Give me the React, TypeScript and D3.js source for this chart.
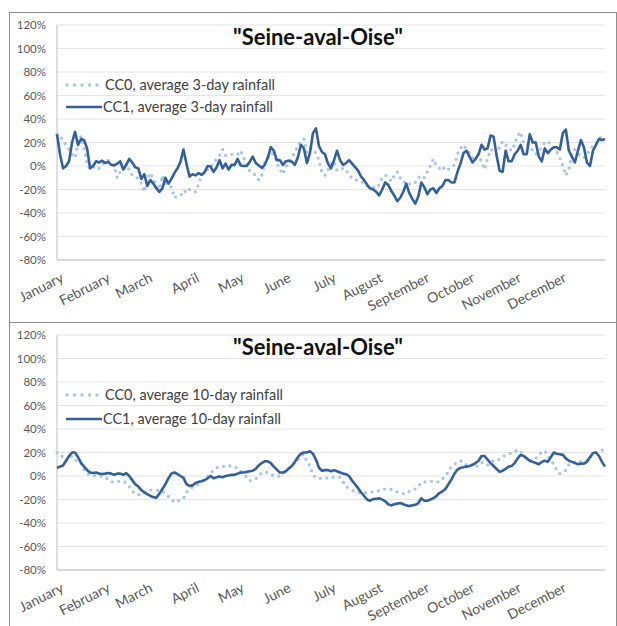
import React from 'react'
import * as d3 from 'd3'

// month labels and the day of year each one starts on
const months = ['January', 'February', 'March', 'April', 'May', 'June', 'July', 'August', 'September', 'October', 'November', 'December']
const monthStart = [0, 31, 59, 90, 120, 151, 181, 212, 243, 273, 304, 334]
const yTicks = [120, 100, 80, 60, 40, 20, 0, -20, -40, -60, -80]

// values are read every 2 days (day 0, 2, 4 ... 364), in %
const DAY_STEP = 2

const cc0_3day = [
  27, 26, 21, 18, 14, 10, 7, 20, 25, 15, 2, -3, -1, 0, -2, 1, 4, 5, 3, 0,
  -10, -5, -3, 0, -3, -8, -9, -11, -15, -22, -10, -6, -11, -17, -20, -8, -15, -17, -18, -27,
  -25, -24, -25, -19, -20, -21, -22, -16, -8, -6, -3, -2, 3, 6, 9, 14, 9, 9, 10, 9,
  10, 13, 7, 0, -4, -6, -8, -12, -8, 3, 7, 11, 10, 3, -3, -7, -1, 3, 7, 12,
  17, 21, 23, 12, 16, 14, 11, 5, -6, -8, -4, 2, 4, -4, -3, -2, -3, -8, -10, -12,
  -12, -13, -15, -17, -18, -18, -19, -16, -10, -8, -9, -13, -8, -5, -10, -14, -13, -15, -16, -14,
  -10, -8, -10, -5, 0, 6, 0, -2, 0, -4, -3, -1, 1, 10, 15, 18, 14, 11, 7, 9,
  10, 3, -3, 6, 14, 13, 10, 16, 21, 18, 15, 13, 18, 26, 29, 19, 18, 17, 13, 10,
  12, 16, 20, 21, 18, 14, 12, 7, 0, -8, -3, 10, 14, 11, 8, 7, 10, 14, 17, 19,
  22, 26, 28,
]

const cc1_3day = [
  27, 10, -2, 0, 4, 20, 29, 18, 23, 22, 15, -2, 0, 4, 3, 4.5, 2.5, 3.5, 1, 0.5,
  2, 4, -3, 1, 6, 3, -1, -2, -11, -7, -17, -12, -15, -19, -22, -19, -10, -15, -11, -6,
  -2, 3.5, 14, 2, -9, -7, -8, -6, -7.5, -5.5, 0, -0.5, -5, -1, 5, -2, 2, -3, 1, 1,
  6, 0.5, 0, 0, 3.5, 8, 2.5, 0.5, -1.5, 1, 7, 16, 13, 5, 5, 1, 4, 4.5, 3.7, 1,
  7.5, 18, 15, 2.5, 11, 28, 32, 17, 12, 10, 2, -2, 5, 13, 5, 1, 2.5, 5, 2, -1,
  -4, -9, -12, -16, -19, -20, -22, -25, -20, -14, -16, -21, -25, -30, -27, -22, -15, -23, -28, -32,
  -26, -14, -18, -24, -20, -19, -23, -19, -17, -12, -12, -14, -14, -5, 2, 11, 13, 8, 3, 6,
  10, 18, 14, 15, 26, 25, 9, -4, -5, 13, 4, 4, 10, 13, 18, 10, 10, 27, 20, 20,
  8, 4, 15, 11, 14, 16, 16, 14, 28, 31, 13, 8, 3, 13, 22, 16, 3, 0, 13, 18,
  23, 22, 23,
]

const cc0_10day = [
  20, 18, 16, 13, 14, 17, 14, 12, 11, 5, 2, 1, 0, 0.5, 0, -0.5, -1, -3, -5, -5,
  -4.5, -4.5, -4.5, -6, -9, -13, -15, -16, -15.5, -14, -13, -12, -12, -12, -12.5, -13, -15, -17.5, -20, -22.5,
  -21.5, -20.5, -19, -14, -11, -9.5, -8.5, -7, -5, -3, -0.5, 2, 5, 7, 7.5, 8, 8.5, 8.5, 8.5, 8,
  6, 4, 1.5, -1, -4, -3.5, -2.5, 0, 3, 3, 3, 1.5, 0, 0, 0, 2, 4, 6.5, 9, 11.5,
  14, 17, 18.5, 12, 9, 1, -1.5, -2, -2, -2, -1.5, -1, -1, -1, -1, -5, -9, -10.5, -12, -13.5,
  -14, -14.5, -14.5, -14, -14, -13.5, -13, -12.5, -11.5, -11, -11, -11.5, -12.5, -13.5, -14, -15, -15, -13, -12, -11,
  -9, -5.5, -5, -5, -4.5, -4.5, -5, -5, -2.5, 0, 4, 8, 10, 12, 13, 12, 9, 9, 10, 7.5,
  9.5, 11.5, 10, 9, 12, 13, 13, 14.5, 16, 18, 19, 19.5, 20.5, 22.5, 21, 17.5, 15, 13, 13.5, 15,
  18.5, 20, 21.5, 17, 13, 10, 4.5, 2, 3, 5, 10, 11, 12, 13, 12, 11.5, 13.5, 16, 18, 20,
  21, 22, 23,
]

const cc1_10day = [
  7, 8, 9, 13, 17, 20, 20, 16, 11, 8, 5, 3, 2.5, 3, 2, 1.7, 2, 2.5, 2, 1,
  2, 2, 1, 2.5, 0, -3.5, -7, -9, -12, -14, -15.5, -17, -18, -18.5, -15, -11, -7, -2, 2, 3,
  1.5, 0, -1.5, -7, -8.5, -8, -6, -5, -4.5, -3.5, -2, 0, -2, -1, -0.5, -1, 0, 0.5, 1, 1,
  2, 3, 3, 3.5, 4, 4.5, 6, 9, 11, 12.5, 12.5, 11, 8, 5.4, 3, 3, 4, 6.5, 8.5, 12,
  16, 19, 20, 20, 21, 19, 14, 7, 4.5, 5, 5, 4, 5, 4, 3, 2, 1.5, 0, -4, -7,
  -10.5, -14, -17, -20, -21, -19.6, -19.5, -19, -20, -21.5, -24, -25, -24, -23.5, -23, -24, -25, -25.5, -25, -24.5,
  -23, -19, -21, -21, -20, -19, -17, -14.5, -13, -11, -7, -3, 2, 5.5, 7, 7.4, 8, 8.5, 9.5, 11,
  13, 17, 17, 14, 11, 8.5, 6, 3.5, 4.5, 6, 8, 8.5, 11, 15, 18, 17, 15, 13, 12, 11,
  10, 12, 13, 12, 16, 20, 19, 18.5, 18, 15, 13, 12, 11, 10, 10.5, 10.5, 12, 16, 19.5, 20,
  17, 12, 8,
]

const FONT = 'Lato, "Open Sans", sans-serif'
const DARK = '#33609a'
const LIGHT = '#a9c5e6'

function Panel({ top, title, cc0, cc1, legend0, legend1, legendY, legendW }) {
  const x = d3.scaleLinear().domain([0, 364]).range([57, 605])
  const y = d3.scaleLinear().domain([-80, 120]).range([top + 248, top + 13])
  const line = d3.line<number>()
    .x((_, i) => x(i * DAY_STEP))
    .y(d => y(d))

  return (
    <g>
      <rect x={9.5} y={top + 0.5} width={607} height={320} fill="#fff" stroke="#8f8f8f" strokeWidth={1} />
      {yTicks.map(t => (
        <g key={t}>
          <line x1={57} x2={605} y1={y(t)} y2={y(t)} stroke={t === -80 ? '#b3b3b3' : '#e4e4e4'} strokeWidth={1} />
          <text x={46} y={y(t)} dy="0.35em" textAnchor="end" fontSize={11.5} fill="#595959" fontFamily={FONT}>{`${t}%`}</text>
        </g>
      ))}
      <line x1={57} x2={57} y1={y(120)} y2={y(-80)} stroke="#bfbfbf" />
      {months.map((m, i) => (
        <text key={m}
          transform={`translate(${x(monthStart[i]) + 3},${top + 260}) rotate(-27)`}
          dy="0.72em" textAnchor="end" fontSize={14} fill="#595959" fontFamily={FONT}>{m}</text>
      ))}
      <path d={line(cc0) ?? ''} fill="none" stroke={LIGHT} strokeWidth={3.3} strokeLinecap="round" strokeDasharray="0 6.5" />
      <path d={line(cc1) ?? ''} fill="none" stroke={DARK} strokeWidth={2.6} strokeLinejoin="round" />
      <text x={318} y={top + 33} textAnchor="middle" fontSize={23} fontWeight="bold" fill="#111" fontFamily={FONT}
        textLength={170} lengthAdjust="spacingAndGlyphs">{title}</text>
      <line x1={67} x2={100} y1={legendY[0]} y2={legendY[0]} stroke={LIGHT} strokeWidth={3.3} strokeLinecap="round" strokeDasharray="0 7.5" />
      <text x={105} y={legendY[0]} dy="0.35em" fontSize={15} fill="#404040" fontFamily={FONT}
        textLength={legendW} lengthAdjust="spacingAndGlyphs">{legend0}</text>
      <line x1={66} x2={102} y1={legendY[1]} y2={legendY[1]} stroke={DARK} strokeWidth={2.6} />
      <text x={103} y={legendY[1]} dy="0.35em" fontSize={15} fill="#404040" fontFamily={FONT}
        textLength={legendW} lengthAdjust="spacingAndGlyphs">{legend1}</text>
    </g>
  )
}

export default function App() {
  return (
    <svg width={617} height={626} style={{ position: 'absolute', left: 0, top: 0, background: '#fff' }}>
      <rect width={617} height={626} fill="#fff" />
      <Panel top={12} title={'"Seine-aval-Oise"'} cc0={cc0_3day} cc1={cc1_3day}
        legend0="CC0, average 3-day rainfall" legend1="CC1, average 3-day rainfall"
        legendY={[85, 107]} legendW={170} />
      <Panel top={322} title={'"Seine-aval-Oise"'} cc0={cc0_10day} cc1={cc1_10day}
        legend0="CC0, average 10-day rainfall" legend1="CC1, average 10-day rainfall"
        legendY={[395, 419]} legendW={178} />
    </svg>
  )
}
